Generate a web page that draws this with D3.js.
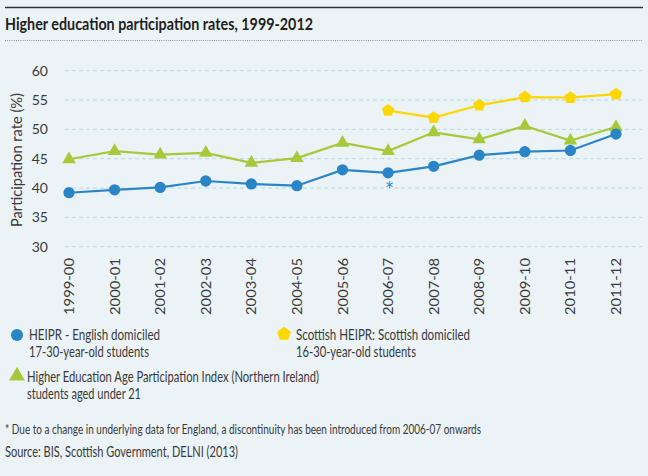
<!DOCTYPE html>
<html><head><meta charset="utf-8">
<script src="https://cdn.jsdelivr.net/npm/d3@7"></script>
<style>
html,body{margin:0;padding:0;background:#ebf3f6;}
svg{display:block;}
text{font-family:Lato,"Open Sans",sans-serif;}
</style></head><body>
<svg id="c" width="648" height="476"></svg>
<script>
const years = ["1999-00","2000-01","2001-02","2002-03","2003-04","2004-05","2005-06","2006-07","2007-08","2008-09","2009-10","2010-11","2011-12"];
const english = [39.2,39.7,40.1,41.2,40.7,40.4,43.1,42.6,43.7,45.6,46.2,46.4,49.2];
const nireland = [44.9,46.3,45.7,46.0,44.3,45.1,47.7,46.3,49.5,48.3,50.6,48.1,50.4];
const scotYears = ["2006-07","2007-08","2008-09","2009-10","2010-11","2011-12"];
const scotland = [53.2,52.0,54.1,55.5,55.4,56.0];
const yTicks = [30,35,40,45,50,55,60];

const C = {blue:"#2a85c7", green:"#a6c93b", yellow:"#fcd700", text:"#3a3a3a"};
const svg = d3.select("#c");

function txt(xp, yp, size, s, len, opts={}){
  const t = svg.append("text").attr("x",xp).attr("y",yp).attr("font-size",size).attr("fill",opts.fill||C.text).text(s);
  if (opts.bold) t.attr("font-weight","bold");
  if (len) t.attr("textLength",len).attr("lengthAdjust","spacingAndGlyphs");
  return t;
}

// header
svg.append("line").attr("x1",5).attr("x2",643).attr("y1",7.5).attr("y2",7.5).attr("stroke","#333").attr("stroke-width",1.3);
txt(5,30,17.5,"Higher education participation rates, 1999-2012",308,{bold:true,fill:"#231f20"});
svg.append("line").attr("x1",5).attr("x2",643).attr("y1",40.5).attr("y2",40.5).attr("stroke","#777").attr("stroke-width",0.8).attr("stroke-dasharray","1,1.2");

const x = d3.scalePoint().domain(years).range([69,616]);
const y = d3.scaleLinear().domain([30,60]).range([246.7,70.7]);

// gridlines
svg.append("g").selectAll("line").data(yTicks).join("line")
  .attr("x1",65).attr("x2",642).attr("y1",d=>y(d)).attr("y2",d=>y(d))
  .attr("stroke","#b3dbe4").attr("stroke-width",1).attr("stroke-dasharray","4,3");

// y axis labels
const yAxis = svg.append("g").attr("transform","translate(50,0)")
  .call(d3.axisLeft(y).tickValues(yTicks).tickSize(0).tickPadding(2));
yAxis.select(".domain").remove();
yAxis.selectAll("text").attr("font-size",14).attr("fill",C.text).attr("font-family",null);

svg.append("text").attr("transform","translate(22,160) rotate(-90)").attr("text-anchor","middle")
  .attr("font-size",14.5).attr("fill",C.text).attr("textLength",134).attr("lengthAdjust","spacingAndGlyphs")
  .text("Participation rate (%)");

// x axis labels
const xAxis = svg.append("g").attr("transform","translate(0,253)")
  .call(d3.axisBottom(x).tickSize(0).tickPadding(0));
xAxis.select(".domain").remove();
xAxis.selectAll(".tick text").attr("font-size",13).attr("fill",C.text).attr("font-family",null)
  .attr("transform","rotate(-90)").attr("text-anchor","end").attr("dy","0.35em").attr("x",-5).attr("y",0)
  .attr("textLength",57).attr("lengthAdjust","spacingAndGlyphs");

const line = d3.line().x(d=>x(d[0])).y(d=>y(d[1]));
function series(xs, vals, color, sym, size){
  const data = xs.map((k,i)=>[k,vals[i]]);
  svg.append("path").datum(data).attr("d",line).attr("fill","none").attr("stroke",color).attr("stroke-width",2.2);
  svg.append("g").selectAll("path").data(data).join("path")
    .attr("transform",d=>`translate(${x(d[0])},${y(d[1])})`)
    .attr("d",d3.symbol().type(sym).size(size)).attr("fill",color);
}
const pentagon = {draw(ctx,size){const r=Math.sqrt(size/2.378);for(let i=0;i<5;i++){const a=-Math.PI/2+i*2*Math.PI/5;const px=r*Math.cos(a),py=r*Math.sin(a);i?ctx.lineTo(px,py):ctx.moveTo(px,py);}ctx.closePath();}};

series(years, nireland, C.green, d3.symbolTriangle, 80);
series(years, english, C.blue, d3.symbolCircle, 100);
series(scotYears, scotland, C.yellow, pentagon, 100);

// asterisk
svg.append("text").attr("x",x("2006-07")+1.5).attr("y",y(42.6)+20).attr("text-anchor","middle")
  .style("font-family","'DejaVu Sans'").attr("font-size",15).attr("fill",C.blue).text("*");

// legend
svg.append("path").attr("transform","translate(17,335)").attr("d",d3.symbol().type(d3.symbolCircle).size(115)).attr("fill",C.blue);
txt(29,340,15,"HEIPR - English domiciled",131);
txt(29,357,15,"17-30-year-old students",120);
svg.append("path").attr("transform","translate(284,334)").attr("d",d3.symbol().type(pentagon).size(125)).attr("fill",C.yellow);
txt(296,340,15,"Scottish HEIPR: Scottish domiciled",174);
txt(296,357,15,"16-30-year-old students",120);
svg.append("path").attr("transform","translate(17,376)").attr("d",d3.symbol().type(d3.symbolTriangle).size(110)).attr("fill",C.green);
txt(27,382,15,"Higher Education Age Participation Index (Northern Ireland)",292);
txt(27,399,15,"students aged under 21",114);

txt(5,434,12.5,"* Due to a change in underlying data for England, a discontinuity has been introduced from 2006-07 onwards",476);
txt(5,457,14.5,"Source: BIS, Scottish Government, DELNI (2013)",233);
</script>
</body></html>
